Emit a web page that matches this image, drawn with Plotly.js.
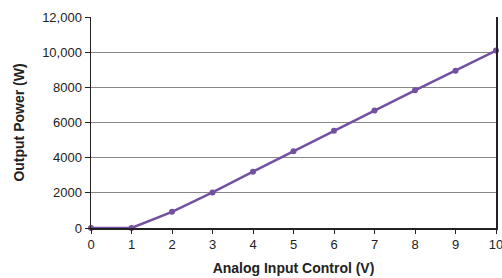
<!DOCTYPE html>
<html><head><meta charset="utf-8">
<script src="https://cdn.plot.ly/plotly-3.0.1.min.js"></script>
<style>html,body{margin:0;padding:0;background:#fff}#c{width:502px;height:278px}</style>
</head><body><div id="c"></div>
<script>
const voltage = [0, 1, 2, 3, 4, 5, 6, 7, 8, 9, 10];
const power = [0, 0, 920, 2020, 3200, 4370, 5530, 6680, 7830, 8950, 10090];
const yTickVals = [0, 2000, 4000, 6000, 8000, 10000, 12000];
const yTickText = ["0", "2000", "4000", "6000", "8000", "10,000", "12,000"];
const xTickVals = [0, 1, 2, 3, 4, 5, 6, 7, 8, 9, 10];

Plotly.newPlot('c', [{
  x: voltage, y: power, type: 'scatter', mode: 'lines+markers',
  line: {color: '#7450a2', width: 2.5},
  marker: {color: '#7450a2', size: 6, symbol: 'circle'},
  cliponaxis: false, hoverinfo: 'none'
}], {
  width: 502, height: 278,
  margin: {l: 91, r: 6, t: 17, b: 50},
  paper_bgcolor: '#fff', plot_bgcolor: '#fff',
  font: {family: 'Liberation Sans, Arial, sans-serif', color: '#222', size: 13},
  showlegend: false,
  xaxis: {
    range: [0, 10], tickvals: xTickVals, ticks: 'outside', ticklen: 4, tickcolor: '#222',
    ticklabeloverflow: 'allow', automargin: false,
    showgrid: false, zeroline: false, showline: true, linecolor: '#222', linewidth: 1.5,
    tickfont: {size: 13},
    title: {text: 'Analog Input Control (V)', font: {size: 14, color: '#222', weight: 'bold'}, standoff: 12}
  },
  yaxis: {
    range: [0, 12000], tickvals: yTickVals, ticktext: yTickText, ticks: 'outside', ticklen: 5, tickcolor: '#222',
    automargin: false,
    showgrid: true, gridcolor: '#888', gridwidth: 1, zeroline: false,
    showline: true, linecolor: '#222', linewidth: 1.5, mirror: true,
    tickfont: {size: 13},
    title: {text: 'Output Power (W)', font: {size: 14, color: '#222', weight: 'bold'}, standoff: 14}
  }
}, {staticPlot: true});
</script></body></html>
